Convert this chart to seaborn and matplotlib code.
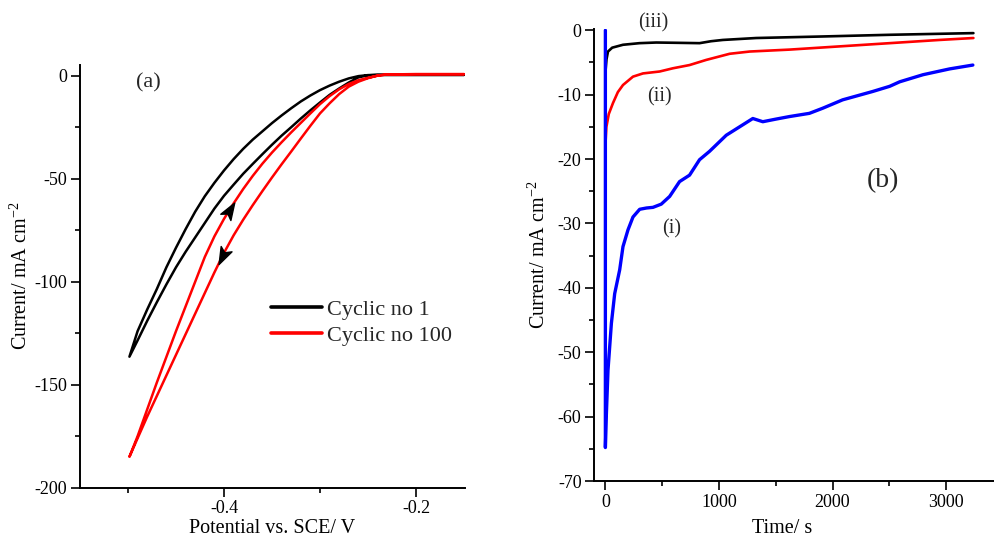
import numpy as np
import pandas as pd
import matplotlib
matplotlib.use("Agg")
import matplotlib.pyplot as plt
from matplotlib.path import Path
from matplotlib.ticker import MultipleLocator, FuncFormatter
import seaborn as sns

# ---------------- (a) cyclic voltammograms ----------------
# cathodic (forward) branch, plateau -> vertex
cv1_fwd_v = [-0.15, -0.20, -0.24, -0.25, -0.26, -0.27, -0.28, -0.29, -0.30, -0.31,
             -0.32, -0.33, -0.34, -0.35, -0.36, -0.37, -0.38, -0.39, -0.40, -0.41,
             -0.42, -0.43, -0.44, -0.45, -0.46, -0.47, -0.48, -0.49, -0.4985]
cv1_fwd_i = [0.4, 0.4, 0.4, 0.2, -0.8, -3.3, -6.2, -9.3, -13.0, -16.8,
             -20.8, -25.0, -29.1, -33.5, -38.1, -42.8, -47.6, -52.9, -58.3, -64.5,
             -71.5, -78.5, -85.5, -93.0, -101.3, -110.0, -119.0, -128.5, -136.4]
# return branch, vertex -> plateau
cv1_ret_v = [-0.4985, -0.49, -0.48, -0.47, -0.46, -0.45, -0.44, -0.43, -0.42, -0.41,
             -0.40, -0.39, -0.38, -0.37, -0.36, -0.35, -0.34, -0.33, -0.32, -0.31,
             -0.30, -0.29, -0.28, -0.27, -0.26, -0.25, -0.24, -0.20, -0.15]
cv1_ret_i = [-136.4, -124.0, -113.5, -103.6, -93.0, -83.5, -74.5, -66.0, -58.5, -52.0,
             -46.0, -40.5, -35.5, -31.0, -27.0, -23.0, -19.3, -15.8, -12.5, -9.6,
             -7.0, -4.8, -2.9, -1.3, -0.2, 0.3, 0.4, 0.4, 0.4]

cv100_fwd_v = [-0.15, -0.20, -0.23, -0.24, -0.25, -0.26, -0.27, -0.28, -0.29, -0.30,
               -0.31, -0.32, -0.33, -0.34, -0.35, -0.36, -0.37, -0.38, -0.39, -0.40,
               -0.41, -0.42, -0.43, -0.44, -0.45, -0.46, -0.47, -0.48, -0.49, -0.4985]
cv100_fwd_i = [0.8, 0.8, 0.6, 0.1, -1.2, -2.9, -5.3, -8.9, -13.4, -18.3,
               -24.3, -30.5, -36.8, -43.0, -49.4, -56.0, -62.8, -69.9, -77.5, -86.0,
               -95.5, -105.5, -115.5, -125.5, -135.5, -145.5, -155.5, -165.5, -176.0, -185.0]
cv100_ret_v = [-0.4985, -0.49, -0.48, -0.47, -0.46, -0.45, -0.44, -0.43, -0.42, -0.41,
               -0.40, -0.39, -0.38, -0.37, -0.36, -0.35, -0.34, -0.33, -0.32, -0.31,
               -0.30, -0.29, -0.28, -0.27, -0.26, -0.25, -0.24, -0.23, -0.20, -0.15]
cv100_ret_i = [-185.0, -175.0, -162.0, -149.0, -136.5, -124.0, -112.0, -100.0, -88.0, -78.0,
               -69.5, -62.0, -55.0, -48.6, -42.7, -37.3, -32.3, -27.5, -22.9, -18.3,
               -13.8, -9.9, -6.6, -4.0, -2.2, -1.0, 0.0, 0.7, 0.7, 0.7]

cv_labels = ["Cyclic no 1", "Cyclic no 100"]

# scan-direction markers on the cycle-100 loop (potential, current)
arrow_up = (-0.3952, -65.9)
arrow_down = (-0.4010, -87.0)

# ---------------- (b) chronoamperometry ----------------
t_i = [0, 0, 8, 23, 53, 82, 126, 155, 199, 243, 302, 362, 419, 492, 566, 653, 741,
       829, 917, 1064, 1181, 1298, 1386, 1500, 1620, 1796, 1914, 2089, 2354, 2503,
       2591, 2796, 3030, 3235]
j_i = [0.0, -64.8, -60.0, -52.8, -45.5, -40.9, -37.2, -33.6, -31.0, -29.0, -27.8,
       -27.6, -27.5, -27.0, -25.8, -23.5, -22.5, -20.1, -18.8, -16.3, -15.0, -13.7,
       -14.2, -13.8, -13.4, -12.9, -12.1, -10.8, -9.5, -8.7, -8.0, -6.9, -6.0, -5.4]

t_ii = [3, 9, 30, 67, 110, 155, 243, 331, 478, 595, 741, 888, 1094, 1270, 1622, 2062,
        2502, 2942, 3240]
j_ii = [-17.0, -15.0, -13.0, -11.3, -9.6, -8.5, -7.2, -6.7, -6.4, -5.9, -5.4, -4.6,
        -3.65, -3.3, -3.0, -2.5, -2.0, -1.5, -1.2]

t_iii = [3, 10, 23, 60, 155, 300, 448, 650, 829, 930, 1034, 1328, 1914, 2503, 3240]
j_iii = [-6.0, -4.5, -3.3, -2.7, -2.25, -2.0, -1.9, -1.95, -2.0, -1.7, -1.5, -1.2,
         -0.96, -0.7, -0.44]

# ---------------- style ----------------
sns.set_theme(style="ticks")
plt.rcParams["font.family"] = ["Liberation Serif", "DejaVu Serif"]
plt.rcParams["mathtext.fontset"] = "custom"
plt.rcParams["mathtext.rm"] = "Liberation Serif"
plt.rcParams["mathtext.it"] = "Liberation Serif:italic"
plt.rcParams["axes.unicode_minus"] = False
plt.rcParams["axes.linewidth"] = 1.4

TICK_FS = 13
LABEL_FS = 14.5

fig = plt.figure(figsize=(9.95, 5.39), dpi=100)
ax1 = fig.add_axes([0.0804, 0.0952, 0.3869, 0.7842])
ax2 = fig.add_axes([0.5970, 0.1076, 0.4030, 0.8380])


def style_axes(ax):
    sns.despine(ax=ax)
    ax.tick_params(which="major", direction="out", length=6.5, width=1.2,
                   labelsize=TICK_FS, pad=2.5, color="black", labelcolor="black")
    ax.tick_params(which="minor", direction="out", length=3.5, width=1.2, color="black")
    for s in ("left", "bottom"):
        ax.spines[s].set_color("black")


# ---- panel (a)
cv_frames = []
for lab, fv, fi, rv, ri in [
    (cv_labels[0], cv1_fwd_v, cv1_fwd_i, cv1_ret_v, cv1_ret_i),
    (cv_labels[1], cv100_fwd_v, cv100_fwd_i, cv100_ret_v, cv100_ret_i),
]:
    v = list(fv) + list(rv)[1:]
    i = list(fi) + list(ri)[1:]
    cv_frames.append(pd.DataFrame({"Potential": v, "Current": i, "Cycle": lab}))
cv_df = pd.concat(cv_frames, ignore_index=True)

for lab, col in zip(cv_labels, ["black", "red"]):
    sub = cv_df[cv_df["Cycle"] == lab]
    sns.lineplot(data=sub, x="Potential", y="Current", sort=False, estimator=None,
                 color=col, lw=1.8, label=lab, ax=ax1)

ax1.set_xlim(-0.55, -0.149)
ax1.set_ylim(-200, 5.2)
ax1.xaxis.set_major_locator(MultipleLocator(0.2))
ax1.xaxis.set_minor_locator(MultipleLocator(0.1))
ax1.yaxis.set_major_locator(MultipleLocator(50))
ax1.yaxis.set_minor_locator(MultipleLocator(25))
ax1.xaxis.set_major_formatter(FuncFormatter(lambda x, p: f"{x:.1f}"))
style_axes(ax1)
ax1.set_xlabel("Potential vs. SCE/ V", fontsize=LABEL_FS, labelpad=1.0, color="black")
ax1.set_ylabel("Current/ mA cm$^{-2}$", fontsize=LABEL_FS, labelpad=2, color="black")
ax1.text(-0.479, -3.5, "(a)", fontsize=16, ha="center", va="center")

leg = ax1.legend(loc="upper left", bbox_to_anchor=(0.495, 0.445), frameon=False,
                 fontsize=16, handlelength=2.3, handletextpad=0.25, labelspacing=0.25,
                 borderpad=0, borderaxespad=0)
for h in leg.get_lines():
    h.set_linewidth(2.6)

# stealth-style arrowheads showing scan direction
fig.canvas.draw()


def head_marker(angle_deg):
    base = np.array([[1.0, 0.0], [-0.7, 0.6], [-0.3, 0.0], [-0.7, -0.6], [1.0, 0.0]])
    a = np.deg2rad(angle_deg)
    rot = np.array([[np.cos(a), -np.sin(a)], [np.sin(a), np.cos(a)]])
    pts = base @ rot.T
    codes = [Path.MOVETO, Path.LINETO, Path.LINETO, Path.LINETO, Path.CLOSEPOLY]
    return Path(pts, codes)


def branch_angle(vs, cs, pos):
    disp = ax1.transData.transform(np.column_stack([vs, cs]))
    p = ax1.transData.transform([pos])[0]
    k = int(np.argmin(np.hypot(*(disp - p).T)))
    k2 = min(k + 1, len(vs) - 1)
    k1 = max(k2 - 1, 0)
    d = disp[k2] - disp[k1]
    return np.degrees(np.arctan2(d[1], d[0]))


ang_up = branch_angle(cv100_ret_v, cv100_ret_i, arrow_up)
ang_dn = branch_angle(cv100_fwd_v, cv100_fwd_i, arrow_down)
ax1.plot([arrow_up[0]], [arrow_up[1]], marker=head_marker(ang_up), ms=13,
         color="black", mec="black", ls="none", zorder=5)
ax1.plot([arrow_down[0]], [arrow_down[1]], marker=head_marker(ang_dn), ms=13,
         color="black", mec="black", ls="none", zorder=5)

# ---- panel (b)
ca_df = pd.concat([
    pd.DataFrame({"Time": t_iii, "Current": j_iii, "Sample": "(iii)"}),
    pd.DataFrame({"Time": t_ii, "Current": j_ii, "Sample": "(ii)"}),
    pd.DataFrame({"Time": t_i, "Current": j_i, "Sample": "(i)"}),
], ignore_index=True)

for name, col, lw in [("(iii)", "black", 1.9), ("(ii)", "red", 1.9), ("(i)", "blue", 2.4)]:
    sub = ca_df[ca_df["Sample"] == name]
    sns.lineplot(data=sub, x="Time", y="Current", sort=False, estimator=None,
                 color=col, lw=lw, ax=ax2, legend=False)

ax2.set_xlim(-100, 3430)
ax2.set_ylim(-70, 0.15)
ax2.xaxis.set_major_locator(MultipleLocator(1000))
ax2.xaxis.set_minor_locator(MultipleLocator(500))
ax2.yaxis.set_major_locator(MultipleLocator(10))
ax2.yaxis.set_minor_locator(MultipleLocator(5))
style_axes(ax2)
ax2.set_xlabel("Time/ s", fontsize=LABEL_FS, labelpad=6, color="black", x=0.468)
ax2.set_ylabel("Current/ mA cm$^{-2}$", fontsize=LABEL_FS, labelpad=6, color="black")

ax2.text(420, 1.1, "(iii)", fontsize=14.5, ha="center", va="center", clip_on=False)
ax2.text(478, -10.3, "(ii)", fontsize=14.5, ha="center", va="center")
ax2.text(580, -30.8, "(i)", fontsize=14.5, ha="center", va="center")
ax2.text(2443, -23.4, "(b)", fontsize=20, ha="center", va="center")

fig.savefig("out.png", dpi=100)
